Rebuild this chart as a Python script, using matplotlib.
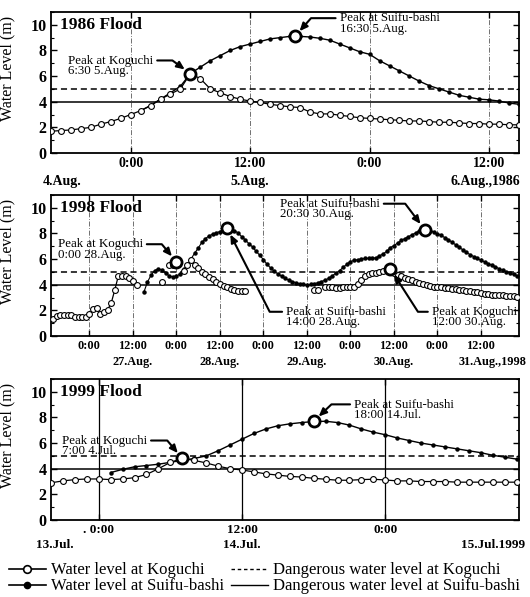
import numpy as np
import matplotlib
matplotlib.use('Agg')
import matplotlib.pyplot as plt
from matplotlib.lines import Line2D
from matplotlib.ticker import MultipleLocator

plt.rcParams['font.family'] = ['Liberation Serif', 'DejaVu Serif']
nan = np.nan

# ---- 1986 flood, hours counted from 0:00 5.Aug.
t_kog86 = np.arange(-8, 40)
kog86 = [1.7, 1.75, 1.8, 1.9, 2.0, 2.25, 2.45, 2.7,
         3.0, 3.3, 3.7, 4.2, 4.6, 5.0, 6.2, 5.8, 5.0, 4.7, 4.4, 4.2,
         4.05, 3.95, 3.8, 3.7, 3.6, 3.55, 3.2, 3.05, 3.05, 2.95, 2.85, 2.75,
         2.7, 2.65, 2.6, 2.55, 2.5, 2.5, 2.45, 2.4, 2.4, 2.35, 2.3, 2.3,
         2.25, 2.25, 2.2, 2.2]
t_sui86 = np.arange(1, 40)
sui86 = [3.3, 3.7, 4.2, 4.7, 5.2, 6.2, 6.7, 7.2, 7.6, 8.0, 8.3,
         8.5, 8.7, 8.9, 9.0, 9.1, 9.1, 9.05, 8.95, 8.8, 8.5, 8.2, 7.9,
         7.7, 7.2, 6.8, 6.4, 6.0, 5.6, 5.25, 5.0, 4.75, 4.5, 4.35, 4.2,
         4.15, 4.05, 3.9, 3.8]
peaks_kog86 = [(6.0, 6.2)]
peaks_sui86 = [(16.5, 9.1)]

# ---- 1998 flood, hours counted from 0:00 27.Aug.
t_kog98 = np.arange(-10, 119)
kog98 = [1.3, 1.55, 1.6, 1.6, 1.6, 1.6, 1.5, 1.5, 1.5, 1.5,
         1.7, 2.1, 2.15, 1.75, 1.85, 2.05, 2.55, 3.6, 4.7, 4.7,
         4.7, 4.5, 4.3, 4.0, nan, nan, nan, nan, nan, nan,
         4.2, nan, 5.5, 5.55, 5.8, nan, 5.1, 5.5, 5.9, 5.5,
         5.3, 5.0, 4.8, 4.6, 4.45, 4.25, 4.05, 3.9, 3.8, 3.68,
         3.57, 3.5, 3.5, 3.5, nan, nan, nan, nan, nan, nan,
         nan, nan, nan, nan, nan, nan, nan, nan, nan, nan,
         nan, nan, 3.55, 3.6, nan, 3.8, 3.8, 3.8, 3.75, 3.75,
         3.8, 3.8, 3.8, 3.85, 4.05, 4.4, 4.65, 4.8, 4.9, 4.95,
         5.0, 5.1, 5.2, 5.25, 4.9, 4.75, 4.65, 4.55, 4.45, 4.35,
         4.25, 4.15, 4.05, 3.95, 3.9, 3.85, 3.82, 3.8, 3.77, 3.73,
         3.68, 3.65, 3.6, 3.57, 3.53, 3.5, 3.45, 3.4, 3.35, 3.3,
         3.25, 3.2, 3.18, 3.17, 3.17, 3.15, 3.12, 3.1, 3.05]
t_sui98 = np.arange(15, 119)
sui98 = [3.4, 4.2, 4.75, 5.1, 5.25, 5.15, 4.9, 4.7, 4.6, 4.65,
         4.85, 5.2, 5.5, 6.0, 6.45, 6.85, 7.3, 7.6, 7.8, 7.95,
         8.05, 8.15, 8.3, 8.4, 8.35, 8.2, 8.05, 7.75, 7.5, 7.2,
         6.95, 6.6, 6.3, 5.95, 5.6, 5.3, 5.05, 4.85, 4.65, 4.5,
         4.35, 4.25, 4.15, 4.08, 4.02, 4.0, 4.02, 4.08, 4.15, 4.25,
         4.35, 4.5, 4.7, 4.9, 5.1, 5.35, 5.6, 5.8, 5.9, 5.95,
         6.0, 6.05, 6.05, 6.05, 6.1, 6.25, 6.4, 6.6, 6.9, 7.05,
         7.25, 7.45, 7.6, 7.75, 7.9, 8.05, 8.2, 8.28, 8.3, 8.22,
         8.1, 7.98, 7.85, 7.68, 7.52, 7.32, 7.12, 6.93, 6.72, 6.52,
         6.35, 6.2, 6.05, 5.9, 5.78, 5.65, 5.52, 5.4, 5.25, 5.12,
         5.0, 4.9, 4.8, 4.7]
peaks_kog98 = [(24, 5.8), (83, 5.25)]
peaks_sui98 = [(38, 8.4), (92.5, 8.3)]

# ---- 1999 flood, hours counted from 0:00 14.Jul.
t_kog99 = np.arange(-4, 36)
kog99 = [2.9, 3.05, 3.15, 3.2, 3.2, 3.15, 3.2, 3.3, 3.55, 4.0,
         4.5, 4.8, 4.65, 4.45, 4.2, 4.0, 3.9, 3.75, 3.6, 3.5,
         3.4, 3.35, 3.25, 3.18, 3.1, 3.1, 3.15, 3.18, 3.12, 3.05,
         3.05, 3.0, 3.0, 3.0, 2.95, 2.95, 2.95, 2.95, 2.95, 2.95]
t_sui99 = np.arange(1, 36)
sui99 = [3.7, 3.95, 4.15, 4.25, 4.35, 4.5, 4.65, 4.8, 5.0, 5.4,
         5.85, 6.3, 6.75, 7.1, 7.35, 7.5, 7.6, 7.68, 7.7, 7.6,
         7.4, 7.1, 6.85, 6.65, 6.4, 6.2, 6.0, 5.85, 5.7, 5.55,
         5.4, 5.25, 5.05, 4.9, 4.75]
peaks_kog99 = [(7, 4.8)]
peaks_sui99 = [(18, 7.7)]

danger_kog = 5.0
danger_sui = 4.0

ticks86 = [0, 12, 24, 36]
ticklab86 = ['0:00', '12:00', '0:00', '12:00']
dates86 = ['4.Aug.', '5.Aug.', '6.Aug.,1986']
datepos86 = [-6.9, 12, 35.6]

ticks98 = list(range(0, 109, 12))
ticklab98 = ['0:00', '12:00'] * 5
dates98 = ['27.Aug.', '28.Aug.', '29.Aug.', '30.Aug.', '31.Aug.,1998']
datepos98 = [12, 36, 60, 84, 111.3]

ticks99 = [0, 12, 24]
ticklab99 = ['. 0:00', '12:00', '0:00']
dates99 = ['13.Jul.', '14.Jul.', '15.Jul.1999']
datepos99 = [-3.7, 12, 33.0]

fig = plt.figure(figsize=(5.3, 5.97), dpi=100)
ax1 = fig.add_axes([0.0962, 0.7437, 0.883, 0.2362])
ax2 = fig.add_axes([0.0962, 0.4372, 0.883, 0.2362])
ax3 = fig.add_axes([0.0962, 0.1290, 0.883, 0.2362])


def base(ax, xlim, ticks, labels, tsize, dates, datepos, dsize, dy, title, grid_style):
    ax.set_xlim(*xlim)
    ax.set_ylim(0, 11)
    ax.set_yticks(range(0, 11, 2))
    ax.yaxis.set_minor_locator(MultipleLocator(1))
    ax.set_yticklabels([str(v) for v in range(0, 11, 2)], fontsize=11.5, fontweight='bold')
    ax.set_xticks(ticks)
    ax.set_xticklabels(labels, fontsize=tsize, fontweight='bold')
    ax.tick_params(axis='y', which='major', direction='in', length=4, width=1, right=True, pad=3)
    ax.tick_params(axis='y', which='minor', direction='in', length=2.5, width=0.8, right=True)
    ax.tick_params(axis='x', direction='in', length=4, width=1, top=True, pad=3)
    for s in ax.spines.values():
        s.set_linewidth(1.3)
    if grid_style == 'dashdot':
        ax.grid(axis='x', ls=(0, (6, 2, 1, 2)), lw=0.6, color='0.35')
    else:
        ax.grid(axis='x', ls='-', lw=0.9, color='k')
    ax.axhline(danger_kog, color='k', lw=1.1, ls=(0, (4, 2.5)), zorder=2)
    ax.axhline(danger_sui, color='k', lw=1.1, zorder=2)
    for d, p in zip(dates, datepos):
        ax.text(p, dy, d, transform=ax.get_xaxis_transform(), ha='center', va='center',
                fontsize=dsize, fontweight='bold', clip_on=False)
    ax.text(0.02, 0.905, title, transform=ax.transAxes, fontsize=12.5, fontweight='bold',
            va='center', ha='left')
    ax.set_ylabel('Water Level (m)', fontsize=11.5)
    ax.yaxis.set_label_coords(-0.077, 0.6)


def series(ax, tk, k, ts, s, pk, ps, sui_lw=1.0):
    ax.plot(ts, s, '-', color='k', lw=sui_lw, marker='o', ms=2.2, zorder=3)
    ax.plot(tk, k, '-', color='k', lw=0.9, marker='o', ms=4.2, mfc='white', mec='k',
            mew=0.8, zorder=4)
    for t, v in pk + ps:
        ax.plot(t, v, 'o', ms=8, mfc='white', mec='k', mew=2.0, zorder=5)


def note(ax, text, xy, xytext, angle, side):
    rel = (1, 0.74) if side == 'right' else (0, 0.74)
    ax.annotate(text, xy=xy, xytext=xytext, textcoords='data', ha='left', va='center',
                fontsize=9.3, linespacing=0.82, zorder=6,
                arrowprops=dict(arrowstyle='-|>,head_length=0.5,head_width=0.22',
                                color='k', lw=1.5, shrinkA=1, shrinkB=5, relpos=rel,
                                connectionstyle=f'angle,angleA=0,angleB={angle},rad=0'))


base(ax1, (-8, 39), ticks86, ticklab86, 10, dates86, datepos86, 10, -0.205, '1986 Flood', 'dashdot')
series(ax1, t_kog86, kog86, t_sui86, sui86, peaks_kog86, peaks_sui86)
note(ax1, 'Peak at Koguchi\n6:30 5.Aug.', peaks_kog86[0], (-6.3, 6.8), -36, 'right')
note(ax1, 'Peak at Suifu-bashi\n16:30 5.Aug.', peaks_sui86[0], (21.0, 10.1), 48.5, 'left')

base(ax2, (-10.6, 118.5), ticks98, ticklab98, 8.8, dates98, datepos98, 8.8, -0.184, '1998 Flood', 'dashdot')
series(ax2, t_kog98, kog98, t_sui98, sui98, peaks_kog98, peaks_sui98, sui_lw=0.8)
note(ax2, 'Peak at Koguchi\n0:00 28.Aug.', peaks_kog98[0], (-8.8, 6.74), -50, 'right')
note(ax2, 'Peak at Suifu-bashi\n14:00 28.Aug.', peaks_sui98[0], (54.3, 1.47), 117, 'left')
note(ax2, 'Peak at Suifu-bashi\n20:30 30.Aug.', peaks_sui98[1], (52.5, 9.9), -53, 'right')
note(ax2, 'Peak at Koguchi\n12:00 30.Aug.', peaks_kog98[1], (94.5, 1.47), 122.7, 'left')

base(ax3, (-4, 35.2), ticks99, ticklab99, 9.5, dates99, datepos99, 9.5, -0.177, '1999 Flood', 'solid')
series(ax3, t_kog99, kog99, t_sui99, sui99, peaks_kog99, peaks_sui99)
note(ax3, 'Peak at Koguchi\n7:00 4.Jul.', peaks_kog99[0], (-3.1, 5.78), -50, 'right')
note(ax3, 'Peak at Suifu-bashi\n18:00 14.Jul.', peaks_sui99[0], (21.4, 8.6), 43.5, 'left')

handles = [
    Line2D([], [], color='k', lw=1.2, marker='o', ms=5.5, mfc='white', mew=1.2),
    Line2D([], [], color='k', lw=1.2, marker='o', ms=4.5),
    Line2D([], [], color='k', lw=1.0, ls=(0, (2.5, 2))),
    Line2D([], [], color='k', lw=1.0),
]
labels = ['Water level at Koguchi', 'Water level at Suifu-bashi',
          'Dangerous water level at Koguchi', 'Dangerous water level at Suifu-bashi']
fig.legend(handles, labels, loc='upper left', bbox_to_anchor=(0.017, 0.058), ncol=2,
           frameon=False, fontsize=12, handlelength=2.2, handletextpad=0.3,
           columnspacing=0.45, labelspacing=0.0, borderpad=0, borderaxespad=0)

fig.savefig('out.png', dpi=100)
